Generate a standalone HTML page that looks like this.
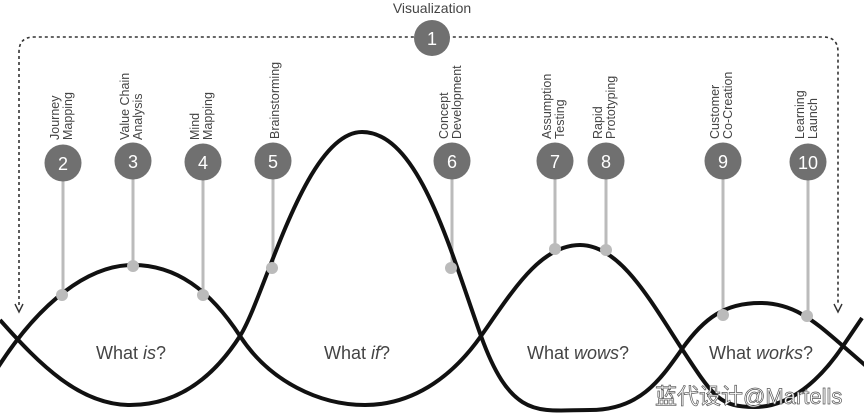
<!DOCTYPE html>
<html><head><meta charset="utf-8"><style>
html,body{margin:0;padding:0;background:#fff;}
svg{display:block;}
text{font-family:"Liberation Sans","Noto Sans CJK SC",sans-serif;}
</style></head><body>
<svg width="864" height="414" viewBox="0 0 864 414" xmlns="http://www.w3.org/2000/svg">
<rect width="864" height="414" fill="#fff"/>
<path d="M19,305 L19,52 Q19,37 34,37 L823,37 Q838,37 838,52 L838,305" fill="none" stroke="#333" stroke-width="1.6" stroke-dasharray="3,3"/>
<path d="M15,304 L19,312 L23,304" fill="none" stroke="#333" stroke-width="1.4"/>
<path d="M834,304 L838,312 L842,304" fill="none" stroke="#333" stroke-width="1.4"/>
<text x="432" y="13" font-size="14" fill="#444" text-anchor="middle">Visualization</text>
<circle cx="432" cy="38" r="18" fill="#707070"/>
<text x="432" y="45" font-size="18" fill="#fff" text-anchor="middle">1</text>

<g stroke="#bbb" stroke-width="3">
<line x1="63" y1="163" x2="63" y2="295"/>
<line x1="133" y1="163" x2="133" y2="266"/>
<line x1="203" y1="163" x2="203" y2="295"/>
<line x1="273" y1="163" x2="273" y2="268"/>
<line x1="452" y1="163" x2="452" y2="268"/>
<line x1="555" y1="163" x2="555" y2="249"/>
<line x1="606" y1="163" x2="606" y2="250"/>
<line x1="723" y1="163" x2="723" y2="315"/>
<line x1="808" y1="163" x2="808" y2="316"/>
</g>

<g fill="none" stroke="#111" stroke-width="4">
<path d="M-5,372 C40,300 90,265 133,265 S210,290 240,336 S320,405 365,405 S450,380 481,336 S540,245 580,245 S650,300 682,349 S720,407 755,407 S820,380 843,346 L862,318"/>
<path d="M0,320 C40,365 80,405 130,405 S215,375 240,336 S305,132 362,132 S450,250 481,336 S540,410 590,410 S660,380 682,349 S725,303 760,303 S815,322 843,346 L866,366"/>
</g>

<g fill="#bbb">
<circle cx="62" cy="295" r="6"/>
<circle cx="133" cy="266" r="6"/>
<circle cx="203" cy="295" r="6"/>
<circle cx="272" cy="268" r="6"/>
<circle cx="451" cy="268" r="6"/>
<circle cx="555" cy="249" r="6"/>
<circle cx="606" cy="250" r="6"/>
<circle cx="723" cy="315" r="6"/>
<circle cx="807" cy="316" r="6"/>
</g>

<g fill="#707070">
<circle cx="63" cy="163" r="18.5"/>
<circle cx="133" cy="161" r="18.5"/>
<circle cx="203" cy="162" r="18.5"/>
<circle cx="273" cy="161" r="18.5"/>
<circle cx="452" cy="161" r="18.5"/>
<circle cx="555" cy="161" r="18.5"/>
<circle cx="606" cy="161" r="18.5"/>
<circle cx="723" cy="161" r="18.5"/>
<circle cx="808" cy="162" r="18.5"/>
</g>
<g fill="#fff" font-size="18" text-anchor="middle">
<text x="63" y="170">2</text>
<text x="133" y="168">3</text>
<text x="203" y="169">4</text>
<text x="273" y="168">5</text>
<text x="452" y="168">6</text>
<text x="555" y="168">7</text>
<text x="606" y="168">8</text>
<text x="723" y="168">9</text>
<text x="808" y="169">10</text>
</g>

<g fill="#444" font-size="12.5">
<text transform="translate(59,140) rotate(-90)">Journey</text>
<text transform="translate(72,140) rotate(-90)">Mapping</text>
<text transform="translate(129,140) rotate(-90)">Value Chain</text>
<text transform="translate(142,140) rotate(-90)">Analysis</text>
<text transform="translate(199,140) rotate(-90)">Mind</text>
<text transform="translate(212,140) rotate(-90)">Mapping</text>
<text transform="translate(279,139) rotate(-90)">Brainstorming</text>
<text transform="translate(448,139) rotate(-90)">Concept</text>
<text transform="translate(461,139) rotate(-90)">Development</text>
<text transform="translate(551,139) rotate(-90)">Assumption</text>
<text transform="translate(564,139) rotate(-90)">Testing</text>
<text transform="translate(602,139) rotate(-90)">Rapid</text>
<text transform="translate(615,139) rotate(-90)">Prototyping</text>
<text transform="translate(719,139) rotate(-90)">Customer</text>
<text transform="translate(732,139) rotate(-90)">Co-Creation</text>
<text transform="translate(804,139) rotate(-90)">Learning</text>
<text transform="translate(817,139) rotate(-90)">Launch</text>
</g>

<g fill="#444" font-size="18" text-anchor="middle">
<text x="131" y="359">What <tspan font-style="italic">is</tspan>?</text>
<text x="357" y="359">What <tspan font-style="italic">if</tspan>?</text>
<text x="578" y="359">What <tspan font-style="italic">wows</tspan>?</text>
<text x="761" y="359">What <tspan font-style="italic">works</tspan>?</text>
</g>

<text x="655" y="404" font-size="22" fill="#fff" stroke="#555" stroke-width="0.7">蓝代设计@Martells</text>
</svg>
</body></html>
